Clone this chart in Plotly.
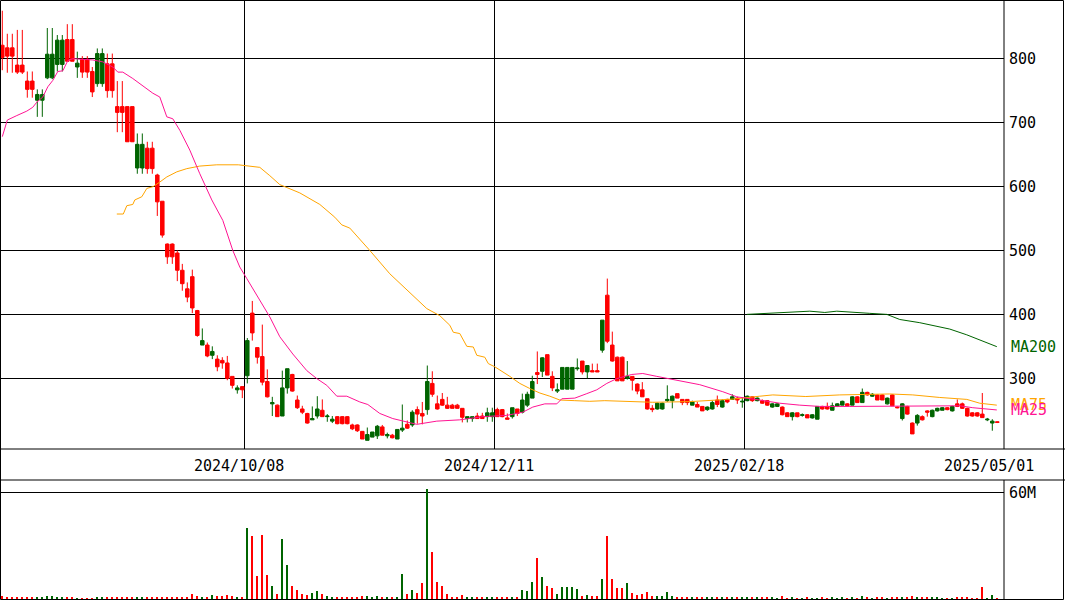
import plotly.graph_objects as go

W, H = 1065, 600

# ---- data (candle index 0..199) ----
opens = [821,817,817,790,790,765,765,735,735,770,770,791,791,830,830,787,799,799,780,761,
         761,792,792,725,725,725,725,629,629,660,660,618,577,510,510,496,469,440,459,406,
         352,352,336,330,328,324,303,282,287,304,402,348,334,295,260,258,241,285,306,266,
         252,245,235,241,250,240,233,240,240,240,227,227,217,203,208,210,224,210,211,205,
         219,228,227,251,245,251,292,260,267,258,258,258,253,237,237,241,241,240,240,251,
         251,238,240,252,247,258,269,309,311,337,303,280,283,283,283,315,327,310,312,312,
         344,430,352,333,333,300,303,291,282,268,253,252,252,265,265,276,267,267,258,259,
         256,251,252,266,255,267,267,269,263,265,271,265,265,265,255,256,255,246,240,246,
         242,243,238,236,256,256,250,256,258,260,258,271,262,278,272,274,274,260,274,255,
         237,256,230,230,240,249,240,249,250,254,249,260,260,253,246,246,244,235,230,232]
highs = [875,839,839,845,845,780,780,752,752,848,848,837,837,854,854,811,804,804,787,816,
         816,808,808,765,765,725,725,683,683,670,670,620,577,511,511,500,479,450,470,407,
         378,356,350,336,333,335,303,289,287,363,421,348,384,314,271,259,312,315,307,273,
         257,246,256,272,267,244,241,241,241,241,229,228,217,223,216,227,227,215,213,220,
         259,234,250,256,263,320,311,273,277,271,260,260,253,240,240,246,246,254,254,254,
         252,245,254,252,276,279,304,342,333,337,311,292,317,317,317,331,327,320,323,323,
         391,456,373,334,334,327,303,292,294,268,258,262,262,289,273,276,267,267,265,263,
         256,256,265,273,267,268,275,271,270,273,272,270,267,266,261,261,256,247,247,246,
         245,244,244,256,257,262,262,261,265,261,272,272,284,279,277,275,275,270,275,256,
         261,257,231,244,242,250,251,254,255,255,257,267,262,254,247,247,277,238,236,232.5]
lows = [782,778,778,776,776,739,739,709,709,768,768,780,780,796,796,770,770,770,740,756,
        756,739,739,685,685,670,670,620,620,620,620,554,520,479,479,452,437,419,402,365,
        352,333,330,311,315,297,284,276,269,292,359,323,289,270,241,240,241,276,279,252,
        244,229,235,237,240,232,230,228,228,228,219,216,205,203,208,205,211,206,206,205,
        216,221,224,229,228,243,271,251,257,252,253,253,231,231,232,237,237,232,232,240,
        239,236,237,241,245,255,269,291,302,305,280,277,283,283,283,312,306,300,310,310,
        340,355,326,296,296,298,281,275,271,251,247,251,251,263,253,269,258,258,258,255,
        249,249,251,255,254,261,267,260,254,264,263,264,260,257,254,255,242,240,234,239,
        240,238,237,236,251,251,250,255,258,256,258,262,262,273,271,266,266,259,257,253,
        234,243,213,226,234,240,239,248,250,250,248,255,252,240,240,240,238,233,218,230]
closes = [802,804,804,779,779,752,752,744,744,807,807,829,829,796,796,793,779,779,748,808,
          808,750,750,716,716,670,670,666,666,628,628,576,524,490,490,469,448,427,410,367,
          359,335,342,318,324,300,289,285,282,359,371,333,294,271,262,240,285,315,280,254,
          247,230,237,252,240,241,236,229,229,229,221,218,205,212,216,225,211,212,207,220,
          222,222,247,244,241,295,275,252,258,253,253,253,239,240,240,237,237,246,246,240,
          240,236,254,245,266,275,295,306,332,305,285,282,317,317,317,316,310,320,310,310,
          391,358,327,296,296,303,297,280,271,252,251,261,261,267,272,269,262,262,263,255,
          249,255,262,259,265,263,271,266,264,272,265,269,261,258,260,260,243,240,246,240,
          243,238,243,256,252,252,257,260,264,257,271,262,278,274,275,266,266,269,257,254,
          260,244,213,242,235,247,250,253,254,251,256,256,253,241,241,241,238.5,236,233,231]
volume_m = [1.7,1.1,1.1,1.1,1.1,0.6,0.6,0.6,0.6,1.7,1.7,0.6,0.6,0.6,0.6,0.3,0.3,0.3,0.3,0.6,
            0.6,0.6,0.6,0.6,0.6,0.6,0.6,0.6,0.6,0.6,0.6,0.6,1.1,1.1,1.1,0.6,0.6,1.1,2.8,1.7,
            1.1,1.1,2.2,1.7,1.7,2.2,1.7,1.1,1.1,39.9,35.4,12.9,36.0,13.5,7.3,2.8,33.8,19.1,7.3,5.1,
            2.8,2.2,3.4,4.5,2.8,1.7,0.6,0.6,0.6,0.6,1.1,0.6,1.7,1.7,0.6,1.7,1.1,0.6,0.6,1.1,
            14.1,2.8,5.1,3.4,9.0,61.9,26.4,9.6,7.3,2.8,0.6,0.6,2.2,1.1,1.1,0.6,0.6,1.1,1.1,1.1,
            1.1,0.6,1.1,1.1,5.1,4.5,9.6,23.1,12.4,7.3,6.2,2.8,6.75,6.75,6.75,5.6,1.7,2.2,1.7,1.7,
            11.25,35.4,11.25,6.2,6.2,9.0,3.4,2.2,2.8,3.9,1.7,1.7,1.7,3.9,1.7,0.6,1.1,1.1,0.6,0.6,
            0.6,0.6,0.6,1.1,0.6,0.6,1.1,1.1,1.1,0.6,0.6,0.6,0.6,0.6,0.6,0.3,1.7,0.3,0.6,0.3,
            0.3,0.6,0.3,0.3,0.6,0.3,0.6,0.3,0.6,0.3,0.6,0.3,1.7,0.6,0.3,0.6,0.6,0.3,0.6,0.6,
            0.6,1.1,1.7,0.6,1.1,0.6,0.6,0.6,0.3,0.3,0.3,0.6,0.6,0.6,0.3,0.3,6.75,0.3,2.2,0.3]

ma25_idx = [0,1,2.9,4.9,6.1,6.9,8.1,9.1,10.1,11.1,12.1,13.1,14.1,18.1,20.1,22.1,23.1,24.1,26.1,28.1,
            30.1,31.5,32.9,34.1,35.5,37.5,39.5,41.9,44.1,46.1,47.5,48.9,51.5,53.5,55.5,58.1,60.9,62.9,64.9,66.9,
            68.9,71.5,73.1,75.5,78.1,80.9,82.9,86.9,91.5,96.1,100.9,104.1,106.1,108.5,110.9,111.9,114.5,116.9,118.9,120.9,
            122.9,125.9,128.1,130.9,135.5,139.5,144.1,146.9,151.5,155.5,159.5,163.5,169.5,175.5,183.5,191.5,194.1,196.9,198.9]
ma25_val = [678,704,711,718,724,732,740,756,766,780,781,797,800,798,795,787,779,779,769,757,
            746,740,709,706,688,657,620,579,547,500,474,456,422,396,365,338,312,299.5,289,272,
            272,263,259,245,237,232,228,233,235,240,242,247,255,260,260,268,269,276,282,292,
            299.5,306,307.5,303,296,290,279,271,266,261,258,256,256,256,257,257,254,252,250.5]

ma75_idx = [22.9,24.2,24.9,26.1,26.5,27.9,28.9,30.2,31.5,32.9,34.9,36.9,39.5,42.9,47.2,49.5,51.5,53.5,55.5,59.5,
            63.5,66.5,67.9,69.5,71.5,73.5,77.5,80.9,84.9,87.5,89.5,90.2,91.5,92.9,94.2,94.9,96.5,97.2,98.5,101.5,
            103.5,105.5,107.5,109.5,111.5,114.5,117.5,120.5,124.5,130.1,137.5,141.5,146.1,151.5,154.1,160.7,167.5,177.5,182.1,187.5,
            192.9,195.5,198.9]
ma75_val = [557,557,570,572,579,584,597,600,607,615,623,628,632,634,634,632,630,617,603,590,
            572,552,540,535,518,500,463.5,438.5,409,398,383,372,370,350,349,336,333,323,318,303,
            292,284,277,272,266,265,264,265,264,262.5,263.5,265,267.5,272,274,271.5,274,275.5,274,270,
            267,261,258]

ma200_idx = [148.9,153.5,156.5,161.5,164.5,166.9,173.5,176.9,179.5,183.5,189.5,192.9,198.9]
ma200_val = [400,401.6,403,405,403,405,401.6,400,392,387,377,368,349.5]

price_ticks = [300, 400, 500, 600, 700, 800]
date_grid = [48.5, 98.5, 148.5]
date_label_pos = [47.4, 97.4, 147.4, 197.4]
date_labels = ["2024/10/08", "2024/12/11", "2025/02/18", "2025/05/01"]

# ---- styling ----
RED = "#ff0000"
GREEN = "#006400"
PINK = "#ff1493"
ORANGE = "#ffa500"
FONT = "DejaVu Sans Mono"

x_idx = list(range(len(opens)))
vol_colors = [GREEN if c >= o else RED for o, c in zip(opens, closes)]

fig = go.Figure()
fig.add_trace(go.Candlestick(
    x=x_idx, open=opens, high=highs, low=lows, close=closes,
    increasing=dict(line=dict(color=GREEN, width=1), fillcolor=GREEN),
    decreasing=dict(line=dict(color=RED, width=1), fillcolor=RED),
    whiskerwidth=0, hoverinfo="skip", xaxis="x", yaxis="y", showlegend=False))
fig.add_trace(go.Scatter(x=ma75_idx, y=ma75_val, mode="lines",
                         line=dict(color=ORANGE, width=1), hoverinfo="skip",
                         xaxis="x", yaxis="y", showlegend=False))
fig.add_trace(go.Scatter(x=ma25_idx, y=ma25_val, mode="lines",
                         line=dict(color=PINK, width=1), hoverinfo="skip",
                         xaxis="x", yaxis="y", showlegend=False))
fig.add_trace(go.Scatter(x=ma200_idx, y=ma200_val, mode="lines",
                         line=dict(color=GREEN, width=1), hoverinfo="skip",
                         xaxis="x", yaxis="y", showlegend=False))
fig.add_trace(go.Bar(x=x_idx, y=volume_m, marker=dict(color=vol_colors, line=dict(width=0)),
                     width=0.22, hoverinfo="skip", xaxis="x2", yaxis="y2", showlegend=False))

PLOT_R = 1004
MAIN_B = 449
STRIP_B = 480
xr = [-0.46, 200.34]

def px(v):
    return v / W

def py(v):
    return 1 - v / H

axis_font = dict(family=FONT, size=15, color="black")

fig.update_layout(
    width=W, height=H, margin=dict(l=0, r=0, t=0, b=0, autoexpand=False),
    paper_bgcolor="white", plot_bgcolor="white",
    boxgap=0.0, bargap=0,
    xaxis=dict(domain=[0, px(PLOT_R)], range=xr, anchor="y",
               tickvals=date_grid, showticklabels=False, ticks="",
               showgrid=True, gridcolor="black", gridwidth=1,
               zeroline=False, showline=False, rangeslider=dict(visible=False)),
    yaxis=dict(domain=[py(MAIN_B), 1], range=[189.4, 891.8], anchor="x", side="right",
               tickvals=price_ticks, ticks="", tickfont=axis_font,
               showgrid=True, gridcolor="black", gridwidth=1, zeroline=False,
               showline=False, ticklabelstandoff=4),
    xaxis2=dict(domain=[0, px(PLOT_R)], range=xr, anchor="y2",
                showticklabels=False, showgrid=False, zeroline=False, ticks=""),
    yaxis2=dict(domain=[0, py(STRIP_B)], range=[-0.56, 66.9], anchor="x2", side="right",
                tickvals=[60], ticktext=["60M"], ticks="", tickfont=axis_font,
                showgrid=True, gridcolor="black", gridwidth=1, zeroline=False,
                showline=False, ticklabelstandoff=4),
)

line = dict(color="black", width=1)
shapes = [
    dict(type="rect", xref="paper", yref="paper", x0=px(0.5), x1=px(W - 1.5),
         y0=py(H - 0.5), y1=py(0.5), line=line),
    dict(type="line", xref="paper", yref="paper", x0=px(PLOT_R), x1=px(PLOT_R),
         y0=py(0), y1=py(MAIN_B), line=line),
    dict(type="line", xref="paper", yref="paper", x0=0, x1=1,
         y0=py(MAIN_B), y1=py(MAIN_B), line=line),
    dict(type="line", xref="paper", yref="paper", x0=0, x1=1,
         y0=py(STRIP_B), y1=py(STRIP_B), line=line),
    dict(type="line", xref="paper", yref="paper", x0=px(PLOT_R), x1=px(PLOT_R),
         y0=py(STRIP_B), y1=py(H), line=line),
]
fig.update_layout(shapes=shapes)

ann = []
for pos, lab in zip(date_label_pos, date_labels):
    ann.append(dict(x=pos, y=py(465.5), xref="x", yref="paper", text=lab, showarrow=False,
                    xanchor="center", yanchor="middle", font=axis_font))
for name, vals, col in [("MA200", ma200_val, GREEN), ("MA75", ma75_val, ORANGE), ("MA25", ma25_val, PINK)]:
    ann.append(dict(x=px(1009), y=vals[-1], xref="paper", yref="y", text=name, showarrow=False,
                    xanchor="left", yanchor="middle", font=dict(family=FONT, size=15, color=col)))
fig.update_layout(annotations=ann)

fig.write_html("out.html", config={"displayModeBar": False},
               post_script="document.body.style.margin='0';document.body.style.overflow='hidden';")
